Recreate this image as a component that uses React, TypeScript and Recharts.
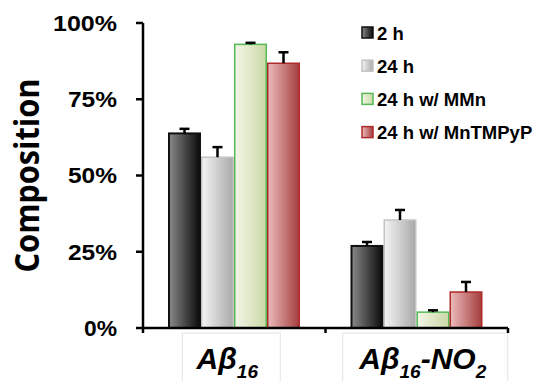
import { Bar, BarChart, Legend, XAxis, YAxis } from "recharts";

const groups = ["Aβ16", "Aβ16-NO2"];
// label pieces: [text, isSubscript]
const groupLabelParts: [string, boolean][][] = [
  [["Aβ", false], ["16", true]],
  [["Aβ", false], ["16", true], ["-NO", false], ["2", true]],
];
const seriesNames = ["2 h", "24 h", "24 h w/ MMn", "24 h w/ MnTMPyP"];
const twoH = [63.8, 26.9];
const twentyFourH = [56, 35.4];
const withMMn = [93, 5.2];
const withMnTMPyP = [86.8, 11.8];
const twoHErr = [1.5, 1.3];
const twentyFourHErr = [3.3, 3.3];
const withMMnErr = [0.5, 0.6];
const withMnTMPyPErr = [3.6, 3.3];
const yTicks = [0, 25, 50, 75, 100];

const seriesValues = [twoH, twentyFourH, withMMn, withMnTMPyP];
const seriesErrors = [twoHErr, twentyFourHErr, withMMnErr, withMnTMPyPErr];

const data = groups.map((name, g) => {
  const row: Record<string, number | string> = { name };
  seriesValues.forEach((vals, i) => {
    row[`s${i}`] = vals[g];
    row[`e${i}`] = seriesErrors[i][g];
  });
  return row;
});

const barLook = [
  { id: "grad-0", from: "#8a8a8a", to: "#0a0a0a", stroke: "#111111", sw: 2 },
  { id: "grad-1", from: "#f4f4f4", to: "#a9a9a9", stroke: "#c4c4c4", sw: 1.5 },
  { id: "grad-2", from: "#f3f6e8", to: "#cad9a6", stroke: "#56b956", sw: 1.5 },
  { id: "grad-3", from: "#ecbcbc", to: "#a53d3d", stroke: "#b02a2a", sw: 1.5 },
];

const FONT = "Liberation Sans, Arial, sans-serif";

// upper-only error bar drawn over each bar
const makeShape = (i: number) => (props: any) => {
  const { x, y, width, height, payload } = props;
  const look = barLook[i];
  const v = payload[`s${i}`] as number;
  const e = payload[`e${i}`] as number;
  const pxPer = v ? height / v : 0;
  const top = y - e * pxPer;
  const cx = x + width / 2;
  return (
    <g>
      <rect
        x={x + look.sw / 2}
        y={y}
        width={width - look.sw}
        height={height}
        fill={`url(#${look.id})`}
        stroke={look.stroke}
        strokeWidth={look.sw}
      />
      <line x1={cx} y1={y} x2={cx} y2={top} stroke="#000" strokeWidth={2.5} />
      <line x1={cx - 5} y1={top} x2={cx + 5} y2={top} stroke="#000" strokeWidth={2.5} />
    </g>
  );
};

const boxSpec = [
  { left: -52, width: 98, textShift: -7 },
  { left: -74, width: 165, textShift: 6 },
];

const CategoryTick = (props: any) => {
  const { x, y, payload, width, visibleTicksCount } = props;
  const idx = payload.index ?? groups.indexOf(payload.value);
  const spec = boxSpec[idx];
  const parts = groupLabelParts[idx];
  const band =
    typeof width === "number" && visibleTicksCount ? width / visibleTicksCount : (payload.offset ?? 91) * 2;
  const half = band / 2;
  const axisY = y - 8;
  let shifted = false;
  return (
    <g>
      <rect
        x={x + spec.left}
        y={y - 3}
        width={spec.width}
        height={60}
        fill="#fff"
        stroke="#e2e2e2"
        strokeWidth={1}
      />
      {/* ticks sit on the category boundaries */}
      <line x1={x - half} y1={axisY} x2={x - half} y2={axisY + 5} stroke="#000" strokeWidth={2.5} />
      {idx === groups.length - 1 && (
        <line x1={x + half} y1={axisY} x2={x + half} y2={axisY + 5} stroke="#000" strokeWidth={2.5} />
      )}
      <text
        x={x + spec.textShift}
        y={y + 33}
        textAnchor="middle"
        fontFamily={FONT}
        fontWeight="bold"
        fontStyle="italic"
        fontSize={30}
        fill="#000"
      >
        {parts.map(([t, sub], k) => {
          let dy = 0;
          if (sub && !shifted) {
            dy = 9;
            shifted = true;
          } else if (!sub && shifted) {
            dy = -9;
            shifted = false;
          }
          return (
            <tspan key={k} dy={dy} fontSize={sub ? 19 : 30}>
              {t}
            </tspan>
          );
        })}
      </text>
    </g>
  );
};

const PercentTick = (props: any) => {
  const { x, y, payload } = props;
  return (
    <text
      x={x}
      y={y}
      dy="0.36em"
      textAnchor="end"
      fontFamily={FONT}
      fontWeight="bold"
      fontSize={22}
      textLength={payload.value === 100 ? 64 : payload.value === 0 ? 33 : 49}
      lengthAdjust="spacingAndGlyphs"
      fill="#000"
    >
      {`${payload.value}%`}
    </text>
  );
};

const LegendBox = () => (
  <svg width={190} height={135}>
    {seriesNames.map((n, i) => {
      const cy = 18 + i * 33.2;
      const look = barLook[i];
      return (
        <g key={n}>
          <rect
            x={7}
            y={cy - 6}
            width={11}
            height={11}
            fill={`url(#${look.id})`}
            stroke={look.stroke}
            strokeWidth={1.5}
          />
          <text x={22} y={cy} dy="0.36em" fontFamily={FONT} fontWeight="bold" fontSize={18.5} fill="#000">
            {n}
          </text>
        </g>
      );
    })}
  </svg>
);

export default function App() {
  return (
    <div style={{ position: "absolute", left: 0, top: 0, background: "#fff" }}>
      <BarChart
        width={546}
        height={381}
        data={data}
        margin={{ top: 23, right: 38, left: 0, bottom: 0 }}
        barCategoryGap={25}
        barGap={0}
      >
        <defs>
          {barLook.map((b) => (
            <linearGradient key={b.id} id={b.id} x1="0" y1="0" x2="1" y2="0">
              <stop offset="0%" stopColor={b.from} />
              <stop offset="100%" stopColor={b.to} />
            </linearGradient>
          ))}
        </defs>
        <XAxis
          dataKey="name"
          tickLine={false}
          axisLine={{ stroke: "#000", strokeWidth: 2.5 }}
          tick={<CategoryTick />}
          height={53}
          interval={0}
        />
        <YAxis
          domain={[0, 100]}
          ticks={yTicks}
          width={143}
          tickSize={7}
          tickMargin={19}
          axisLine={{ stroke: "#000", strokeWidth: 2.5 }}
          tickLine={{ stroke: "#000", strokeWidth: 2.5 }}
          tick={<PercentTick />}
          label={{
            content: (p: any) => {
              const vb = p.viewBox;
              const cy = vb.y + vb.height / 2;
              return (
                <text
                  transform={`translate(26, ${cy}) rotate(-90)`}
                  textAnchor="middle"
                  dominantBaseline="central"
                  fontFamily="Open Sans, sans-serif"
                  fontWeight="bold"
                  fontSize={34}
                  textLength={194}
                  lengthAdjust="spacingAndGlyphs"
                  fill="#000"
                >
                  Composition
                </text>
              );
            },
          }}
        />
        <Legend
          layout="vertical"
          align="center"
          verticalAlign="middle"
          content={() => <LegendBox />}
          wrapperStyle={{ position: "absolute", left: 355, top: 15, width: 190 }}
        />
        {seriesNames.map((n, i) => (
          <Bar
            key={n}
            name={n}
            dataKey={`s${i}`}
            shape={makeShape(i)}
            isAnimationActive={false}
          />
        ))}
      </BarChart>
    </div>
  );
}
